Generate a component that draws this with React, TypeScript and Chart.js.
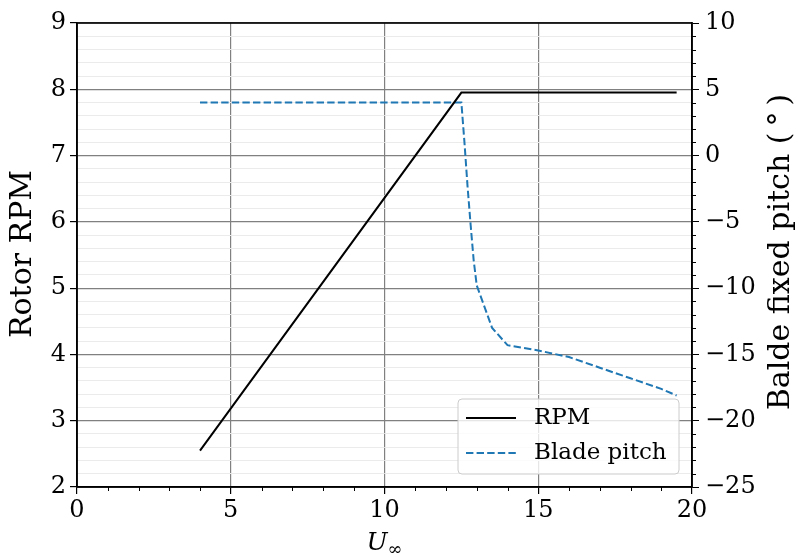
import React, { useEffect, useRef } from "react";
import { Chart, registerables } from "chart.js";

Chart.register(...registerables);

// ---- data ----
const rpmWind = [4, 12.5, 19.5];
const rpmValues = [2.55, 7.95, 7.95];
const pitchWind = [4, 12.5, 12.6, 12.7, 12.8, 12.9, 13, 13.5, 14, 15, 16, 17, 18, 19, 19.5];
const pitchValues = [4, 4, 1.0, -2.3, -5.2, -7.9, -9.8, -13.0, -14.3, -14.7, -15.2, -16.0, -16.8, -17.6, -18.1];
const xTicks = [0, 5, 10, 15, 20];
const leftTicks = [2, 3, 4, 5, 6, 7, 8, 9];
const rightTicks = [-25, -20, -15, -10, -5, 0, 5, 10];
const seriesLabels = ["RPM", "Blade pitch"];
const leftTitle = "Rotor RPM";
const rightTitle = "Balde fixed pitch (\u2009\u00B0\u2009)";

const SERIF = "'DejaVu Serif', serif";
const BLUE = "#1f77b4";

const isInt = (v: number) => Math.abs(v - Math.round(v)) < 1e-6;
const fmt = (v: number) => (v < 0 ? "\u2212" + Math.abs(v) : String(v));

const decorPlugin = {
  id: "decor",
  afterDraw(chart: any) {
    const ctx = chart.ctx as CanvasRenderingContext2D;
    const a = chart.chartArea;
    const xs = chart.scales.x;
    const yr = chart.scales.y1;
    ctx.save();
    // minor ticks
    ctx.strokeStyle = "#000";
    ctx.lineWidth = 1;
    for (let v = xs.min; v <= xs.max; v += 1) {
      if (v % 5 === 0) continue;
      const px = Math.round(xs.getPixelForValue(v)) + 0.5;
      ctx.beginPath();
      ctx.moveTo(px, a.bottom);
      ctx.lineTo(px, a.bottom + 4);
      ctx.stroke();
    }
    for (let v = yr.min; v <= yr.max; v += 1) {
      if (v % 5 === 0) continue;
      const py = Math.round(yr.getPixelForValue(v)) + 0.5;
      ctx.beginPath();
      ctx.moveTo(a.right, py);
      ctx.lineTo(a.right + 4, py);
      ctx.stroke();
    }
    // frame
    ctx.lineWidth = 1.6;
    ctx.strokeRect(a.left, a.top, a.right - a.left, a.bottom - a.top);

    // titles
    ctx.fillStyle = "#000";
    ctx.font = `30px ${SERIF}`;
    ctx.textAlign = "center";
    ctx.textBaseline = "middle";
    ctx.save();
    ctx.translate(23, 254);
    ctx.rotate(-Math.PI / 2);
    ctx.fillText(leftTitle, 0, 0);
    ctx.restore();
    ctx.save();
    ctx.translate(781, 252);
    ctx.rotate(-Math.PI / 2);
    ctx.fillText(rightTitle, 0, 0);
    ctx.restore();
    // x title U_inf
    const cx = (a.left + a.right) / 2;
    ctx.textAlign = "left";
    ctx.textBaseline = "alphabetic";
    ctx.font = `italic 25px ${SERIF}`;
    const uw = ctx.measureText("U").width;
    ctx.font = `18px ${SERIF}`;
    const iw = ctx.measureText("\u221E").width;
    const start = cx - (uw + iw) / 2;
    ctx.font = `italic 25px ${SERIF}`;
    ctx.fillText("U", start, 550);
    ctx.font = `18px ${SERIF}`;
    ctx.fillText("\u221E", start + uw, 555);

    // legend
    const lx = 458, ly = 399, lw = 221, lh = 75, r = 4;
    ctx.beginPath();
    ctx.moveTo(lx + r, ly);
    ctx.lineTo(lx + lw - r, ly);
    ctx.arcTo(lx + lw, ly, lx + lw, ly + r, r);
    ctx.lineTo(lx + lw, ly + lh - r);
    ctx.arcTo(lx + lw, ly + lh, lx + lw - r, ly + lh, r);
    ctx.lineTo(lx + r, ly + lh);
    ctx.arcTo(lx, ly + lh, lx, ly + lh - r, r);
    ctx.lineTo(lx, ly + r);
    ctx.arcTo(lx, ly, lx + r, ly, r);
    ctx.closePath();
    ctx.fillStyle = "rgba(255,255,255,0.8)";
    ctx.fill();
    ctx.strokeStyle = "#cccccc";
    ctx.lineWidth = 1;
    ctx.stroke();

    const rows = [
      { y: 418, color: "#000", dash: [] as number[] },
      { y: 453, color: BLUE, dash: [7.4, 3.2] },
    ];
    rows.forEach((row, i) => {
      ctx.strokeStyle = row.color;
      ctx.lineWidth = 2;
      ctx.setLineDash(row.dash);
      ctx.beginPath();
      ctx.moveTo(466, row.y);
      ctx.lineTo(516, row.y);
      ctx.stroke();
      ctx.setLineDash([]);
      ctx.fillStyle = "#000";
      ctx.font = `23px ${SERIF}`;
      ctx.textAlign = "left";
      ctx.textBaseline = "middle";
      ctx.fillText(seriesLabels[i], 534, row.y);
    });
    ctx.restore();
  },
};

export default function App() {
  const ref = useRef<HTMLCanvasElement | null>(null);

  useEffect(() => {
    if (!ref.current) return;
    const rpmData = rpmWind.map((x, i) => ({ x, y: rpmValues[i] }));
    const pitchData = pitchWind.map((x, i) => ({ x, y: pitchValues[i] }));
    const tickFont = { family: SERIF, size: 24 };
    const chart = new Chart(ref.current, {
      type: "line",
      data: {
        datasets: [
          {
            label: seriesLabels[0],
            data: rpmData,
            borderColor: "#000",
            borderWidth: 2,
            pointRadius: 0,
            tension: 0,
            yAxisID: "y",
          },
          {
            label: seriesLabels[1],
            data: pitchData,
            borderColor: BLUE,
            borderWidth: 2,
            borderDash: [7.4, 3.2],
            pointRadius: 0,
            tension: 0,
            yAxisID: "y1",
          },
        ],
      },
      options: {
        animation: false,
        responsive: false,
        events: [],
        layout: { padding: { top: 23, left: 0, right: 0, bottom: 0 } },
        plugins: { legend: { display: false }, tooltip: { enabled: false } },
        scales: {
          x: {
            type: "linear",
            min: xTicks[0],
            max: xTicks[xTicks.length - 1],
            afterBuildTicks: (s: any) => {
              s.ticks = xTicks.map((v) => ({ value: v }));
            },
            ticks: { font: tickFont, color: "#000", padding: 2, callback: (v: any) => fmt(Number(v)), maxRotation: 0, autoSkip: false },
            grid: {
              color: (c: any) => (c.tick && (c.tick.value === 0 || c.tick.value === 20) ? "rgba(0,0,0,0)" : "#808080"),
              lineWidth: 1.2,
              tickColor: "#000",
              tickLength: 7,
            },
            border: { color: "#000", width: 1.6 },
            afterFit: (s: any) => {
              s.height = 71;
            },
          },
          y: {
            type: "linear",
            position: "left",
            min: leftTicks[0],
            max: leftTicks[leftTicks.length - 1],
            ticks: {
              stepSize: 0.2,
              autoSkip: false,
              font: tickFont,
              color: "#000",
              padding: 4,
              callback: (v: any) => (isInt(Number(v)) ? String(Math.round(Number(v))) : ""),
            },
            grid: {
              color: (c: any) => (c.tick && isInt(c.tick.value) ? "#808080" : "#ebebeb"),
              lineWidth: (c: any) => (c.tick && isInt(c.tick.value) ? 1.2 : 1),
              tickColor: (c: any) => (c.tick && isInt(c.tick.value) ? "#000" : "rgba(0,0,0,0)"),
              tickLength: 7,
            },
            border: { color: "#000", width: 1.6 },
            afterFit: (s: any) => {
              s.width = 77;
            },
          },
          y1: {
            type: "linear",
            position: "right",
            min: rightTicks[0],
            max: rightTicks[rightTicks.length - 1],
            afterBuildTicks: (s: any) => {
              s.ticks = rightTicks.map((v) => ({ value: v }));
            },
            ticks: { font: tickFont, color: "#000", padding: 6, autoSkip: false, callback: (v: any) => fmt(Number(v)) },
            grid: { drawOnChartArea: false, tickColor: "#000", tickLength: 7 },
            border: { color: "#000", width: 1.6 },
            afterFit: (s: any) => {
              s.width = 107;
            },
          },
        },
      },
      plugins: [decorPlugin],
    } as any);
    return () => chart.destroy();
  }, []);

  return (
    <div style={{ position: "fixed", left: 0, top: 0, width: 799, height: 558, background: "#fff" }}>
      <canvas ref={ref} width={799} height={558} style={{ display: "block", width: 799, height: 558 }} />
    </div>
  );
}
